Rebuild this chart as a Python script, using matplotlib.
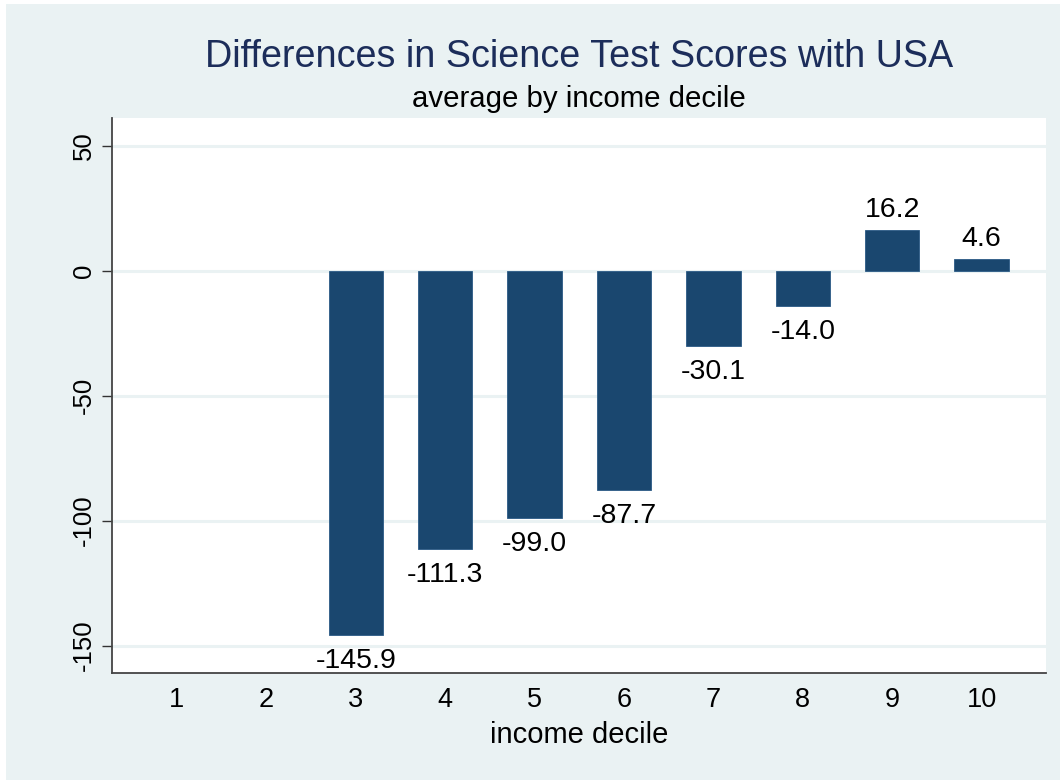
import matplotlib
matplotlib.use("Agg")
import matplotlib.pyplot as plt
from matplotlib.patches import Rectangle

# data
deciles = [1, 2, 3, 4, 5, 6, 7, 8, 9, 10]
diffs = [None, None, -145.9, -111.3, -99.0, -87.7, -30.1, -14.0, 16.2, 4.6]
y_ticks = [50, 0, -50, -100, -150]

bar_color = "#1A476F"
bg_color = "#EAF2F3"
grid_color = "#EAF2F3"

plt.rcParams["font.family"] = ["Liberation Sans", "DejaVu Sans"]

W, H = 1060, 780
fig = plt.figure(figsize=(W / 100, H / 100), dpi=100, facecolor="white")
# light stata-like outer region (thin white strip at top/left as in reference)
fig.patches.append(Rectangle((6 / W, 0), 1 - 6 / W, 1 - 4 / H,
                             transform=fig.transFigure, facecolor=bg_color,
                             edgecolor="none", zorder=-10))

left, right, top, bottom = 112, 1046, 118, 672.5
ax = fig.add_axes([left / W, 1 - bottom / H, (right - left) / W, (bottom - top) / H])
ax.set_facecolor("white")

xs = [d for d, v in zip(deciles, diffs) if v is not None]
vals = [v for v in diffs if v is not None]
ax.bar(xs, vals, width=0.61, color=bar_color, edgecolor="#2a5a86", linewidth=0.6, zorder=3)

for x, v in zip(xs, vals):
    if v >= 0:
        t = ax.annotate(f"{v:.1f}", (x, v), xytext=(0, 5), textcoords="offset points",
                        ha="center", va="bottom", fontsize=20.5, zorder=4)
    else:
        t = ax.annotate(f"{v:.1f}", (x, v), xytext=(0, -9.5), textcoords="offset points",
                        ha="center", va="top", fontsize=20.5, zorder=4)
    t.set_clip_on(True)

ax.set_xlim(0.273, 10.72)
ax.set_ylim(-160.8, 61.2)

ax.set_yticks(y_ticks)
ax.set_yticklabels([str(t) for t in y_ticks], rotation=90, va="center", fontsize=18.5)
for t in y_ticks:
    ax.axhline(t, color=grid_color, linewidth=2.2, zorder=1)

ax.set_xticks(deciles)
ax.set_xticklabels([str(d) for d in deciles], fontsize=19.5)
ax.tick_params(axis="x", length=0, pad=10.5)
ax.tick_params(axis="y", length=7.2, width=1, color="#333333", pad=4.3)

for side in ["top", "right"]:
    ax.spines[side].set_visible(False)
for side in ["left", "bottom"]:
    ax.spines[side].set_color("#444444")
    ax.spines[side].set_linewidth(1.3)

ax.set_xlabel("income decile", fontsize=21, va="top")
ax.xaxis.set_label_coords(0.5, -(721 - bottom) / (bottom - top))

cx = (left + right) / 2 / W
fig.text(cx, 1 - 67 / H, "Differences in Science Test Scores with USA",
         ha="center", va="baseline", fontsize=27.2, color="#1C2D5A")
fig.text(cx, 1 - 107 / H, "average by income decile",
         ha="center", va="baseline", fontsize=21.2, color="black")

fig.savefig("out.png", dpi=100, facecolor=fig.get_facecolor())
